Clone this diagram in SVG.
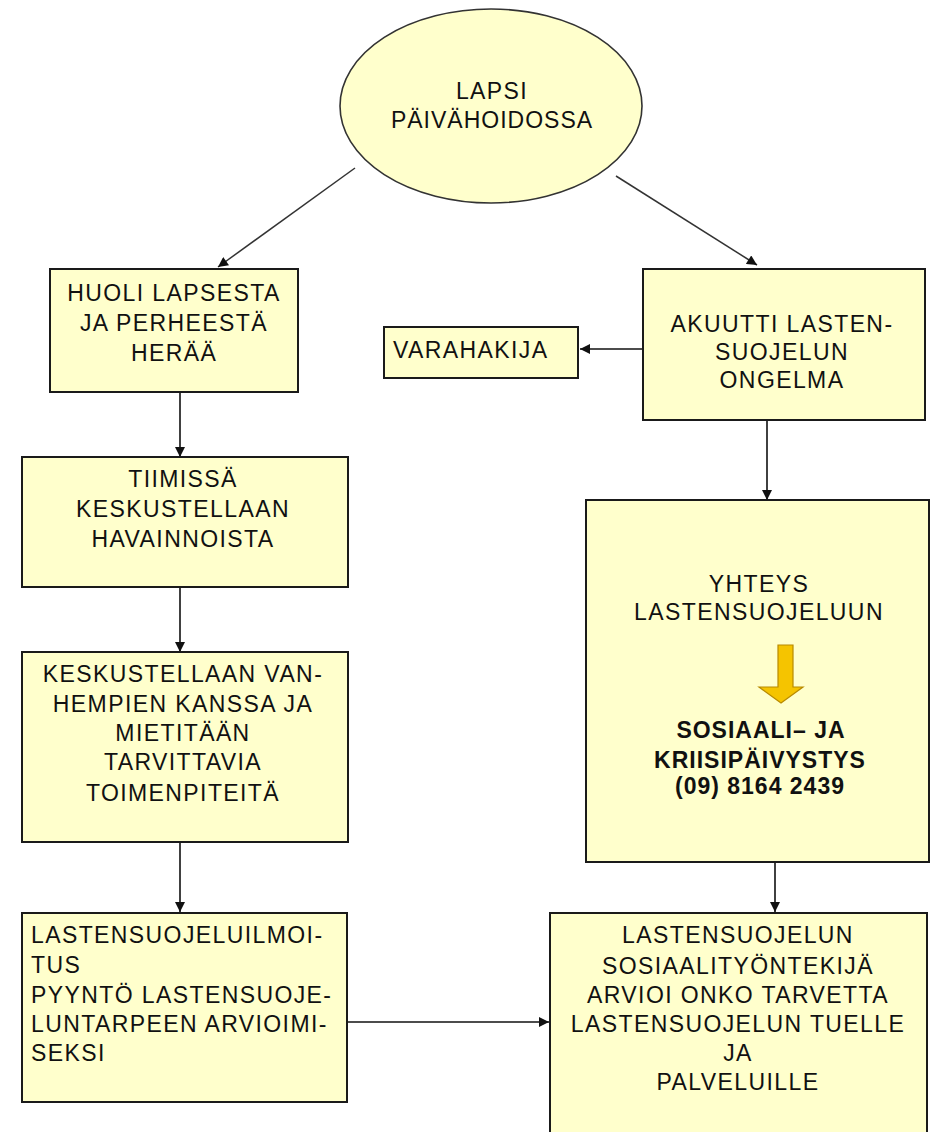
<svg xmlns="http://www.w3.org/2000/svg" width="932" height="1132" viewBox="0 0 932 1132">
<defs>
<style>
.box{fill:#FFFFCC;stroke:#1a1a1a;stroke-width:2}
.t{font-family:"Liberation Sans",Arial,sans-serif;font-size:23px;letter-spacing:1.4px;fill:#111}
.c{text-anchor:middle}
.b{font-family:"Liberation Sans",Arial,sans-serif;font-size:23px;font-weight:bold;letter-spacing:1px;fill:#111;text-anchor:middle}
.ln{stroke:#111;stroke-width:1.6;fill:none;marker-end:url(#ah)}
.dg{stroke:#333;stroke-width:1.5;fill:none;marker-end:url(#ah)}
</style>
<marker id="ah" viewBox="0 0 10 10" refX="10" refY="5" markerWidth="11" markerHeight="10" markerUnits="userSpaceOnUse" orient="auto">
<path d="M0,0 L10,5 L0,10 z" fill="#111"/>
</marker>
</defs>
<rect width="932" height="1132" fill="#fff"/>

<g id="connectors">
<line class="dg" x1="355" y1="168" x2="218" y2="267"/>
<line class="dg" x1="616" y1="176" x2="757" y2="265"/>
<line class="ln" x1="643" y1="349" x2="580" y2="349"/>
<line class="ln" x1="767" y1="420" x2="767" y2="500"/>
<line class="ln" x1="180" y1="392" x2="180" y2="457"/>
<line class="ln" x1="180" y1="587" x2="180" y2="652"/>
<line class="ln" x1="180" y1="842" x2="180" y2="912"/>
<line class="ln" x1="775" y1="862" x2="775" y2="912"/>
<line class="ln" x1="347" y1="1022" x2="549" y2="1022"/>
</g>

<g id="node-lapsi">
<ellipse cx="491" cy="106" rx="151" ry="97" fill="#FFFFCC" stroke="#333" stroke-width="1.6"/>
<text class="t c" x="492" y="99">LAPSI</text>
<text class="t c" x="492" y="128" style="letter-spacing:1px">PÄIVÄHOIDOSSA</text>
</g>

<g id="node-huoli">
<rect class="box" x="50" y="269" width="248" height="123"/>
<text class="t c" x="174" y="301">HUOLI LAPSESTA</text>
<text class="t c" x="174" y="331">JA PERHEESTÄ</text>
<text class="t c" x="174" y="361">HERÄÄ</text>
</g>

<g id="node-varahakija">
<rect class="box" x="384" y="327" width="194" height="51"/>
<text class="t" x="393" y="358">VARAHAKIJA</text>
</g>

<g id="node-akuutti">
<rect class="box" x="643" y="269" width="282" height="151"/>
<text class="t c" x="782" y="332">AKUUTTI LASTEN-</text>
<text class="t c" x="782" y="360">SUOJELUN</text>
<text class="t c" x="782" y="388">ONGELMA</text>
</g>

<g id="node-tiimissa">
<rect class="box" x="22" y="457" width="326" height="130"/>
<text class="t c" x="183" y="487">TIIMISSÄ</text>
<text class="t c" x="183" y="517">KESKUSTELLAAN</text>
<text class="t c" x="183" y="547">HAVAINNOISTA</text>
</g>

<g id="node-keskustellaan">
<rect class="box" x="22" y="652" width="326" height="190"/>
<text class="t c" x="183" y="682">KESKUSTELLAAN VAN-</text>
<text class="t c" x="183" y="712">HEMPIEN KANSSA JA</text>
<text class="t c" x="183" y="741">MIETITÄÄN</text>
<text class="t c" x="183" y="770">TARVITTAVIA</text>
<text class="t c" x="183" y="801">TOIMENPITEITÄ</text>
</g>

<g id="node-yhteys">
<rect class="box" x="586" y="500" width="343" height="362"/>
<text class="t c" x="759" y="592">YHTEYS</text>
<text class="t c" x="759" y="620">LASTENSUOJELUUN</text>
<path d="M778,645 L793,645 L793,687 L803,687 L781,703 L759,687 L778,687 z" fill="#F5C400" stroke="#B88A00" stroke-width="1.2"/>
<text class="b" x="761" y="738">SOSIAALI– JA</text>
<text class="b" x="760" y="768">KRIISIPÄIVYSTYS</text>
<text class="b" x="760" y="794">(09) 8164 2439</text>
</g>

<g id="node-ilmoitus">
<rect class="box" x="22" y="913" width="325" height="189"/>
<text class="t" x="31" y="943">LASTENSUOJELUILMOI-</text>
<text class="t" x="31" y="973">TUS</text>
<text class="t" x="31" y="1003">PYYNTÖ LASTENSUOJE-</text>
<text class="t" x="31" y="1032">LUNTARPEEN ARVIOIMI-</text>
<text class="t" x="31" y="1061">SEKSI</text>
</g>

<g id="node-sosiaalityontekija">
<rect class="box" x="550" y="913" width="377" height="230"/>
<text class="t c" x="738" y="943">LASTENSUOJELUN</text>
<text class="t c" x="738" y="974">SOSIAALITYÖNTEKIJÄ</text>
<text class="t c" x="738" y="1003">ARVIOI ONKO TARVETTA</text>
<text class="t c" x="738" y="1032">LASTENSUOJELUN TUELLE</text>
<text class="t c" x="738" y="1061">JA</text>
<text class="t c" x="738" y="1090">PALVELUILLE</text>
</g>
</svg>
